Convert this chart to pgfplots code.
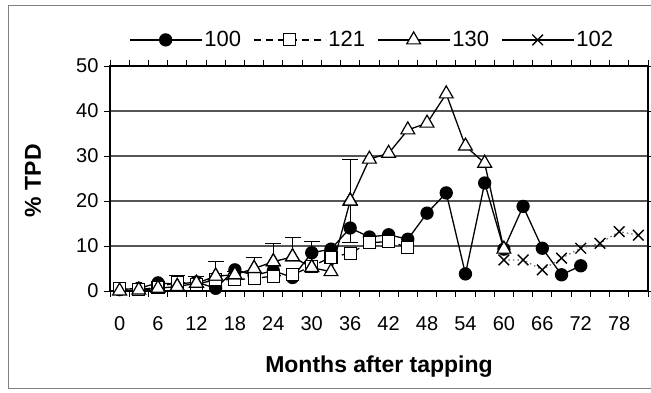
\documentclass[border=0pt]{standalone}
\usepackage{pgfplots}
\pgfplotsset{compat=1.18}
\usepackage{fontspec}
\setmainfont{Liberation Sans}
\definecolor{gridc}{RGB}{85,85,85}
\definecolor{dotc}{RGB}{110,110,110}
\begin{document}
\begin{tikzpicture}
\useasboundingbox (-110pt,-102pt) rectangle (541pt,291pt);
\draw[gray, line width=0.9pt] (541pt,286pt) -- (-102pt,286pt) -- (-102pt,-97pt) -- (541pt,-97pt);
\begin{axis}[
  scale only axis,
  width=538pt, height=225pt,
  xmin=-1.5, xmax=82.5,
  ymin=0, ymax=50,
  clip=false,
  axis line style={black, line width=1.1pt},
  tick align=outside,
  xtick={-1.5,1.5,...,82.5},
  xticklabels={},
  major tick length=6pt,
  extra x ticks={0,6,12,18,24,30,36,42,48,54,60,66,72,78},
  extra x tick labels={0,6,12,18,24,30,36,42,48,54,60,66,72,78},
  extra x tick style={major tick length=0pt},
  xticklabel style={yshift=-22pt},
  ytick={0,10,20,30,40,50},
  ymajorgrids=true,
  major grid style={draw=gridc, line width=1.3pt},
  tick style={black, line width=0.9pt},
  /pgf/number format/assume math mode=true,
  ticklabel style={font=\fontsize{20}{24}\selectfont},
  yticklabel style={xshift=-2pt},
  xlabel={Months after tapping},
  ylabel={\% TPD},
  xlabel style={font=\fontsize{23}{28}\selectfont\bfseries, at={(axis description cs:0.5,-0.338)}, anchor=center},
  ylabel style={font=\fontsize{23}{28}\selectfont\bfseries, at={(axis description cs:-0.143,0.49)}, anchor=center},
  legend columns=4,
  legend style={draw=none, fill=none, at={(axis description cs:0.487,1.116)}, anchor=center,
    font=\fontsize{22}{26}\selectfont,
    /tikz/every even column/.append style={column sep=10pt}},
  legend image code/.code={\draw[mark repeat=2,mark phase=2] plot coordinates {(0pt,0pt) (36pt,0pt) (72pt,0pt)};},
]
% Series 100
\addplot[black, line width=1.3pt, mark=*, mark size=6pt, mark options={solid, fill=black}] coordinates {
(0,0.3) (3,0.6) (6,1.8) (9,1.5) (12,2.0) (15,0.6) (18,4.7) (21,3.5) (24,4.5) (27,3.0)
(30,8.5) (33,9.3) (36,14.0) (39,12.0) (42,12.5) (45,11.5) (48,17.3) (51,21.8) (54,3.8)
(57,24.0) (60,9.3) (63,18.8) (66,9.5) (69,3.6) (72,5.6)};
\addlegendentry{100}
% Series 121
\addplot[black, line width=1.3pt, dash pattern=on 7pt off 5pt, mark=square*, mark size=6pt, mark options={solid, fill=white, line width=1.2pt}] coordinates {
(0,0.5) (3,0.3) (6,0.8) (9,2.0) (12,1.5) (15,2.5) (18,2.5) (21,2.8) (24,3.3) (27,3.6)
(30,5.5) (33,7.5) (36,8.4) (39,10.7) (42,11.0) (45,9.7)};
\addlegendentry{121}
% error bars of series 130
\addplot[forget plot, only marks, mark=triangle*, mark size=8pt, mark options={fill=white, line width=1.2pt},
  error bars/.cd, y dir=plus, y explicit, error mark=-,
  error mark options={rotate=90, black, line width=1.1pt, mark size=8pt},
  error bar style={black, line width=1.1pt}] coordinates {
(9,1.0) += (0,2.4) (12,1.7) += (0,1.5) (15,3.3) += (0,3.2) (18,3.6) += (0,0.8)
(21,5.0) += (0,2.5) (24,6.5) += (0,4.1) (27,7.6) += (0,4.2) (30,5.2) += (0,5.8)
(36,20.0) += (0,9.3)};
\addplot[forget plot, only marks, mark=triangle*, mark size=8pt, mark options={fill=white, line width=1.2pt},
  error bars/.cd, y dir=minus, y explicit, error mark=-,
  error mark options={rotate=90, black, line width=1.1pt, mark size=8pt},
  error bar style={black, line width=1.1pt}] coordinates {(36,20.0) -= (0,9.3)};
% Series 130
\addplot[black, line width=1.3pt, mark=triangle*, mark size=8pt, mark options={solid, fill=white, line width=1.2pt}] coordinates {
(0,0) (3,0.2) (6,0.6) (9,1.0) (12,1.7) (15,3.3) (18,3.6) (21,5.0) (24,6.5) (27,7.6)
(30,5.2) (33,4.3) (36,20.0) (39,29.3) (42,30.6) (45,35.8) (48,37.3) (51,43.8) (54,32.2)
(57,28.4) (60,9.3)};
\addlegendentry{130}
% Series 102
\addplot[dotc, line width=1.2pt, dash pattern=on 1.5pt off 3pt, mark=x, mark size=7.5pt, mark options={solid, black, line width=1.4pt},
  legend image post style={solid, black, line width=1.3pt}] coordinates {
(60,6.9) (63,6.9) (66,4.7) (69,7.3) (72,9.5) (75,10.6) (78,13.2) (81,12.4)};
\addlegendentry{102}
\end{axis}
\end{tikzpicture}
\end{document}
